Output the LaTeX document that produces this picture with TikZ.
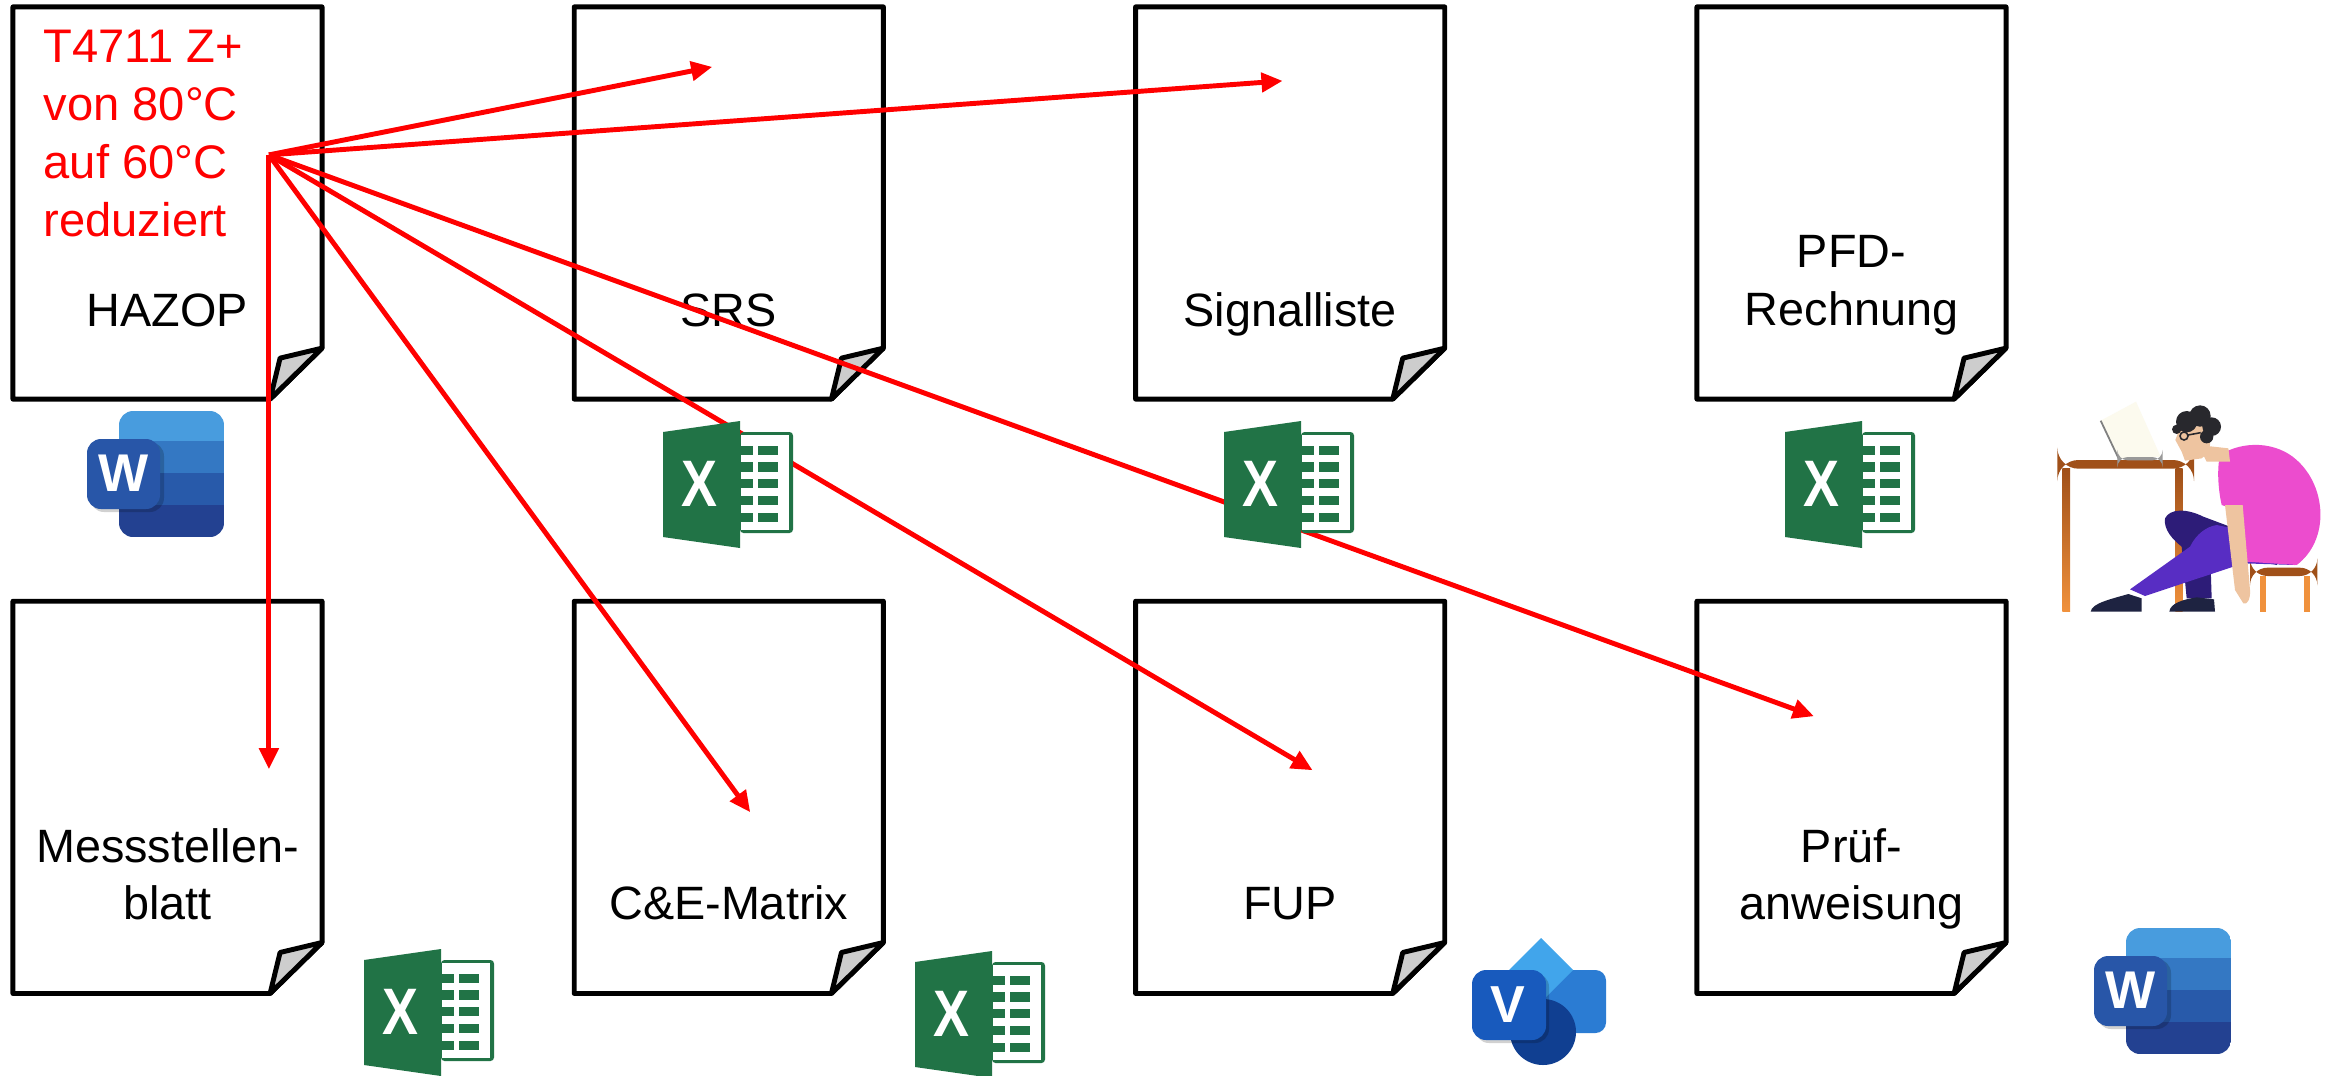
\documentclass[tikz,border=0pt]{standalone}
\usepackage{fontspec}
\setmainfont{Liberation Sans}
\usepackage{xcolor}
\usepackage{tikz}
\usetikzlibrary{positioning,calc,arrows.meta}

\definecolor{foldgray}{RGB}{205,205,205}
\definecolor{xlgreen}{RGB}{33,115,70}
\definecolor{wdA}{RGB}{72,156,222}
\definecolor{wdB}{RGB}{52,120,195}
\definecolor{wdC}{RGB}{40,90,170}
\definecolor{wdD}{RGB}{35,65,145}
\definecolor{wdfront}{RGB}{40,86,168}
\definecolor{vsA}{RGB}{65,165,235}
\definecolor{vsB}{RGB}{43,124,211}
\definecolor{vsC}{RGB}{16,63,145}
\definecolor{vsfront}{RGB}{24,90,189}
\definecolor{tablebrown}{RGB}{160,80,25}
\definecolor{tableorange}{RGB}{240,145,60}
\definecolor{skin}{RGB}{238,196,160}
\definecolor{hair}{RGB}{40,40,45}
\definecolor{shirt}{RGB}{236,76,206}
\definecolor{pants}{RGB}{88,45,195}
\definecolor{pantsdark}{RGB}{45,28,120}
\definecolor{shoe}{RGB}{30,35,65}
\definecolor{screen}{RGB}{252,250,238}

\newcommand{\doctext}{\fontsize{13.3}{16.3}\selectfont}

% sheet of paper with dog-ear, drawn around an empty node
\newcommand{\paperoutline}[1]{%
  \draw[line width=1.4pt, line join=round, fill=white]
    (#1.north west) -- (#1.north east) -- ($(#1.south east)+(0,-51)$)
    -- ($(#1.south east)+(-52,0)$) -- (#1.south west) -- cycle;
  \draw[line width=1.4pt, line join=round, fill=foldgray]
    ($(#1.south east)+(0,-51)$) -- ($(#1.south east)+(-42,-41)$)
    -- ($(#1.south east)+(-52,0)$) -- cycle;
}

\tikzset{
  excel/.pic={
    \fill[xlgreen, rounded corners=1] (77,11) rectangle (130,112);
    \fill[white] (78,14) rectangle (126,109);
    \foreach \r in {0,...,4} {
      \fill[xlgreen] (77,{24.7+16.7*\r}) rectangle (90.3,{34+16.7*\r});
      \fill[xlgreen] (95.3,{24.7+16.7*\r}) rectangle (115.3,{34+16.7*\r});
    }
    \fill[xlgreen] (0,11) -- (77,0) -- (77,127) -- (0,116) -- cycle;
    \node[text=white, inner sep=0pt, font=\fontsize{18.7}{18.7}\selectfont\bfseries]
      (-letter) at (36.5,62.7) {\scalebox{0.82}[1]{X}};
  },
  word/.pic={
    \begin{scope}
      \clip[rounded corners=4] (32,0) rectangle (137,126);
      \fill[wdA] (32,0) rectangle (137,30);
      \fill[wdB] (32,30) rectangle (137,62);
      \fill[wdC] (32,62) rectangle (137,94);
      \fill[wdD] (32,94) rectangle (137,126);
    \end{scope}
    \fill[black, opacity=0.18, rounded corners=4] (3,31) rectangle (77,101);
    \fill[wdfront, rounded corners=4] (0,28) rectangle (73,98);
    \node[text=white, inner sep=0pt, font=\fontsize{15.1}{15.1}\selectfont\bfseries]
      (-letter) at (36.5,62) {W};
  },
  visio/.pic={
    \fill[vsB, rounded corners=3] (68,32) rectangle (134,95);
    \fill[vsA] (69,0) -- (101,32) -- (69,64) -- (37,32) -- cycle;
    \fill[vsC] (71,94) circle (33);
    \fill[black, opacity=0.18, rounded corners=4] (3,35) rectangle (77,105);
    \fill[vsfront, rounded corners=4] (0,32) rectangle (74,102);
    \node[text=white, inner sep=0pt, font=\fontsize{14.8}{14.8}\selectfont\bfseries]
      (-letter) at (36,67) {V};
  },
  worker/.pic={
    % table legs and stool
    \shade[top color=tablebrown, bottom color=tableorange] (97,236) rectangle (120,665);
    \shade[top color=tablebrown, bottom color=tableorange] (436,236) rectangle (458,665);
    \fill[tableorange] (690,558) rectangle (707,665);
    \fill[tableorange] (823,558) rectangle (840,665);
    \fill[tablebrown, rounded corners=5] (660,533) rectangle (862,558);
    % legs
    \fill[pantsdark] (405,385) .. controls (420,355) and (470,355) .. (520,380)
      -- (760,470) -- (740,525) -- (540,470) -- (545,625) -- (470,625) -- (455,470)
      .. controls (430,450) and (400,420) .. (405,385) -- cycle;
    \fill[pants] (560,405) -- (800,455) -- (795,525) -- (640,520) -- (345,618)
      -- (300,598) -- (480,470) .. controls (500,430) and (530,410) .. (560,405) -- cycle;
    \fill[shoe] (182,665) .. controls (185,640) and (240,628) .. (295,612)
      -- (335,625) -- (335,665) -- cycle;
    \fill[shoe] (418,665) .. controls (420,640) and (460,628) .. (500,622)
      -- (552,628) -- (555,665) -- cycle;
    % table top and laptop
    \fill[tablebrown, rounded corners=6] (82,210) rectangle (492,236);
    \fill[screen] (212,92) -- (318,35) -- (392,200) -- (266,206) -- cycle;
    \draw[gray, line width=0.5pt] (212,92) -- (266,206);
    \fill[gray!80, rounded corners=3] (262,201) rectangle (398,211);
    % body
    \fill[shirt] (570,195) .. controls (640,150) and (740,155) .. (800,210)
      .. controls (890,290) and (900,450) .. (800,525) -- (650,515)
      .. controls (630,450) and (600,400) .. (590,350) -- (575,345)
      .. controls (565,300) and (560,240) .. (570,195) -- cycle;
    \fill[skin] (585,345) -- (638,345) -- (660,600) .. controls (662,630) and (650,645) .. (640,640)
      -- (615,600) -- cycle;
    \fill[skin] (505,165) -- (595,175) -- (600,215) -- (530,215) -- cycle;
    \fill[skin] (448,118) -- (525,105) .. controls (550,140) and (545,185) .. (515,205)
      -- (465,212) -- (455,185) -- (436,150) -- cycle;
    \fill[hair] (470,95) circle (32) (510,78) circle (32) (545,110) circle (28)
      (530,140) circle (20) (440,118) circle (14);
    \draw[hair, line width=0.45pt] (462,138) circle (12) (474,135) -- (512,128);
  }
}

\begin{document}
\begin{tikzpicture}[
    x=0.01cm, y=-0.01cm,
    node distance=2.02cm and 2.52cm,
    paper/.style={rectangle, minimum width=3.09cm, minimum height=3.92cm, inner sep=0pt, outer sep=0pt},
    papertext/.style={anchor=south, align=center, inner sep=0pt, text depth=0pt, font=\doctext},
    redarrow/.style={draw=red, line width=1.4pt, -{Triangle[length=6pt, width=5.4pt]}}
]
    \useasboundingbox (0,0) rectangle (2336,1075);
    \fill[white] (0,0) rectangle (2336,1075);

    % Documents
    \node[paper] (hazop) at (167.5,203) {};
    \node[paper, right=of hazop] (srs) {};
    \node[paper, right=of srs] (signal) {};
    \node[paper, right=of signal] (pfd) {};
    \node[paper, below=of hazop] (mess) {};
    \node[paper, below=of srs] (ce) {};
    \node[paper, below=of signal] (fup) {};
    \node[paper, below=of pfd] (pruef) {};

    \foreach \d in {hazop,srs,signal,pfd,mess,ce,fup,pruef}
        \paperoutline{\d};

    % Labels
    \node[papertext] (hazop-t) at ($(hazop.north)+(0,320)$) {HAZOP};
    \node[papertext] (srs-t) at ($(srs.north)+(0,320)$) {SRS};
    \node[papertext] (signal-t) at ($(signal.north)+(0,320)$) {Signalliste};
    \node[papertext] (pfd-t) at ($(pfd.north)+(0,319)$) {PFD-\\Rechnung};
    \node[papertext] (mess-t) at ($(mess.north)+(0,319)$) {Messstellen-\\blatt};
    \node[papertext] (ce-t) at ($(ce.north)+(0,319)$) {C\&E-Matrix};
    \node[papertext] (fup-t) at ($(fup.north)+(0,319)$) {FUP};
    \node[papertext] (pruef-t) at ($(pruef.north)+(0,319)$) {Prüf-\\anweisung};

    \node[anchor=south west, align=left, inner sep=0pt, text depth=0pt,
          font=\fontsize{13.4}{16.5}\selectfont, text=red]
        (change) at (43,237) {T4711 Z+\\von 80°C\\auf 60°C\\reduziert};

    % Connections
    \coordinate (src) at ($(hazop.north west)+(256,148)$);
    \coordinate (srs-in) at ($(srs.north west)+(138,60)$);
    \coordinate (signal-in) at ($(signal.north west)+(147,74)$);
    \coordinate (mess-in) at ($(mess.north west)+(256,168)$);
    \coordinate (ce-in) at ($(ce.north west)+(176,211)$);
    \coordinate (fup-in) at ($(fup.north west)+(177,169)$);
    \coordinate (pruef-in) at ($(pruef.north west)+(117,115)$);

    \draw[redarrow] (src) -- (srs-in);
    \draw[redarrow] (src) -- (signal-in);
    \draw[redarrow] (src) -- (mess-in);
    \draw[redarrow] (src) -- (ce-in);
    \draw[redarrow] (src) -- (fup-in);
    \draw[redarrow] (src) -- (pruef-in);

    % Tools
    \pic (wd1) at (87,411) {word};
    \pic (xl1) at (663,421) {excel};
    \pic (xl2) at (1224,421) {excel};
    \pic (xl3) at (1785,421) {excel};
    \pic (xl4) at (364,949) {excel};
    \pic (xl5) at (915,951) {excel};
    \pic (vs1) at (1472,938) {visio};
    \pic (wd2) at (2094,928) {word};
    \pic[scale=1/3] (man) at (2030,390) {worker};
\end{tikzpicture}
\end{document}
